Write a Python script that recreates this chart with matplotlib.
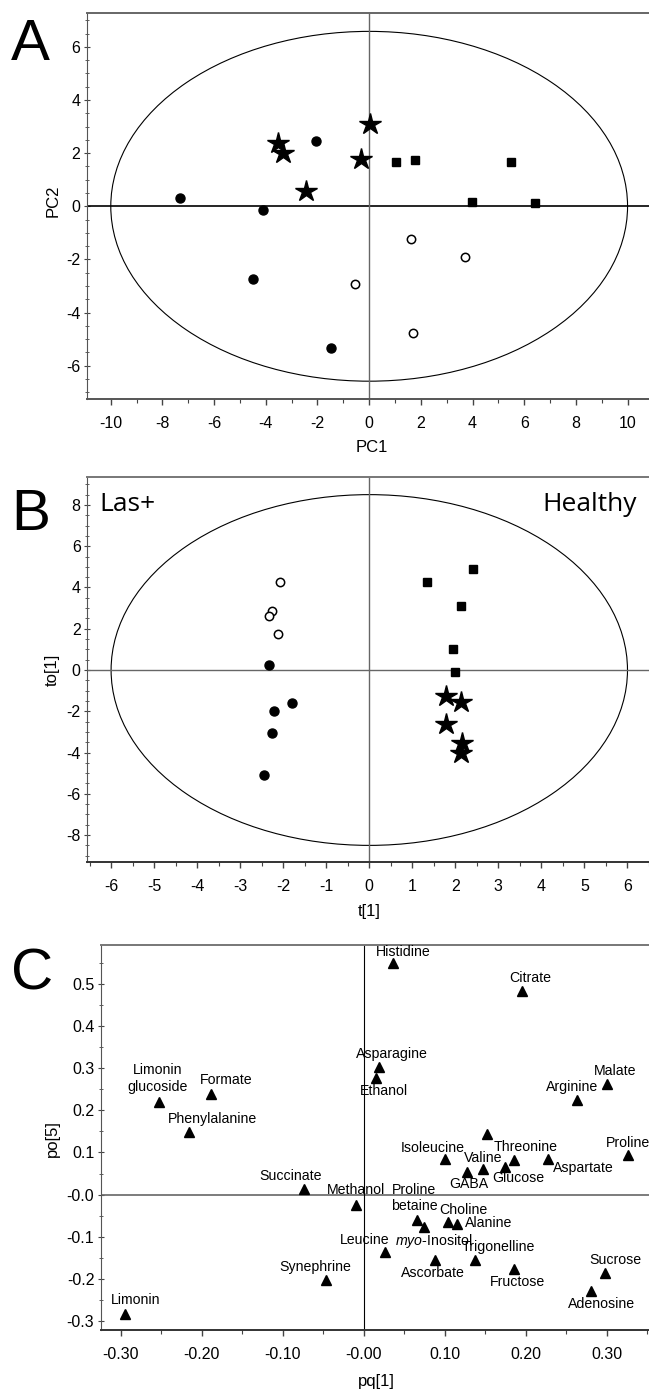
import matplotlib
matplotlib.use("Agg")
import matplotlib.pyplot as plt
from matplotlib.patches import Ellipse
from matplotlib.ticker import MultipleLocator, FixedLocator, FixedFormatter
import numpy as np

plt.rcParams["font.family"] = ["Liberation Sans", "DejaVu Sans"]
plt.rcParams["mathtext.fontset"] = "custom"
plt.rcParams["mathtext.rm"] = "Liberation Sans"
plt.rcParams["mathtext.it"] = "Liberation Sans:italic"
plt.rcParams["axes.unicode_minus"] = False

# ---- Panel A: PCA scores (PC1 vs PC2) ----
A_STAR_X = [-3.53, -3.33, 0.03, -0.32, -2.45]
A_STAR_Y = [2.37, 1.99, 3.08, 1.78, 0.58]
A_DOT_X = [-7.31, -4.09, -2.05, -4.49, -1.46]
A_DOT_Y = [0.32, -0.13, 2.45, -2.74, -5.35]
A_SQ_X = [1.04, 1.76, 5.50, 3.99, 6.41]
A_SQ_Y = [1.68, 1.75, 1.67, 0.16, 0.12]
A_OPEN_X = [1.63, 3.72, -0.53, 1.68]
A_OPEN_Y = [-1.24, -1.90, -2.91, -4.76]
A_ELLIPSE = (10.0, 6.58)   # semi-axes (PC1, PC2)

# ---- Panel B: OPLS-DA scores (t[1] vs to[1]) ----
B_OPEN_X = [-2.07, -2.27, -2.33, -2.13]
B_OPEN_Y = [4.25, 2.88, 2.63, 1.73]
B_DOT_X = [-2.32, -1.80, -2.21, -2.27, -2.45]
B_DOT_Y = [0.24, -1.62, -1.99, -3.04, -5.09]
B_SQ_X = [1.34, 2.40, 2.14, 1.95, 2.00]
B_SQ_Y = [4.28, 4.89, 3.10, 1.00, -0.11]
B_STAR_X = [1.78, 2.12, 1.78, 2.16, 2.13]
B_STAR_Y = [-1.26, -1.54, -2.64, -3.56, -4.00]
B_ELLIPSE = (6.0, 8.5)

# ---- Panel C: loadings (pq[1] vs po[5]) ----
C_NAMES = ["Histidine", "Citrate", "Asparagine", "Ethanol", "Malate", "Arginine",
           "Limonin\nglucoside", "Formate", "Phenylalanine", "", "Isoleucine",
           "Threonine", "Valine", "GABA", "Glucose", "Aspartate", "Proline",
           "Succinate", "Methanol", "Proline\nbetaine", r"$\it{myo}$-Inositol",
           "Choline", "Alanine", "Leucine", "Ascorbate", "Trigonelline",
           "Fructose", "Sucrose", "Adenosine", "Synephrine", "Limonin"]
C_X = [0.036, 0.196, 0.019, 0.015, 0.300, 0.263,
       -0.252, -0.189, -0.215, 0.152, 0.101,
       0.186, 0.147, 0.128, 0.175, 0.228, 0.326,
       -0.074, -0.010, 0.066, 0.074,
       0.104, 0.115, 0.026, 0.088, 0.137,
       0.185, 0.298, 0.281, -0.047, -0.294]
C_Y = [0.551, 0.484, 0.303, 0.277, 0.263, 0.224,
       0.221, 0.238, 0.149, 0.144, 0.085,
       0.081, 0.060, 0.053, 0.065, 0.085, 0.093,
       0.013, -0.026, -0.061, -0.077,
       -0.066, -0.070, -0.136, -0.156, -0.155,
       -0.178, -0.187, -0.229, -0.203, -0.283]
C_XTICKS = [-0.30, -0.20, -0.10, 0.0, 0.10, 0.20, 0.30]
C_XTICKLABELS = ["-0.30", "-0.20", "-0.10", "-0.00", "0.10", "0.20", "0.30"]
C_YTICKS = [-0.3, -0.2, -0.1, 0.0, 0.1, 0.2, 0.3, 0.4, 0.5]
C_YTICKLABELS = ["-0.3", "-0.2", "-0.1", "-0.0", "0.1", "0.2", "0.3", "0.4", "0.5"]

# label offsets from marker, in pixels (dx, dy)
C_LABEL_OFFSETS = {
    "Histidine": (10, 11), "Citrate": (8, 13), "Asparagine": (13, 13),
    "Ethanol": (8, -13), "Malate": (8, 13), "Arginine": (-5, 13),
    "Limonin\nglucoside": (-2, 23), "Formate": (16, 14), "Phenylalanine": (23, 13),
    "Isoleucine": (-13, 11), "Threonine": (11, 13), "Valine": (0, 11),
    "GABA": (1, -12), "Glucose": (13, -11), "Aspartate": (35, -9),
    "Proline": (0, 12), "Succinate": (-13, 13), "Methanol": (0, 15),
    "Proline\nbetaine": (-3, 22), r"$\it{myo}$-Inositol": (10, -14),
    "Choline": (15, 12), "Alanine": (32, 1), "Leucine": (-20, 12),
    "Ascorbate": (-2, -13), "Trigonelline": (24, 13), "Fructose": (4, -13),
    "Sucrose": (10, 13), "Adenosine": (10, -13), "Synephrine": (-10, 13),
    "Limonin": (10, 14),
}

W, H = 649, 1390
fig = plt.figure(figsize=(W / 100, H / 100), dpi=100)


def px_axes(left, top, bottom):
    return fig.add_axes([left / W, 1 - bottom / H, 1 - left / W, (bottom - top) / H])


def style_axes(ax, top_color="#666", bottom_color="#555"):
    ax.spines["right"].set_visible(False)
    ax.spines["top"].set_color(top_color)
    ax.spines["top"].set_linewidth(1.4)
    ax.spines["bottom"].set_color(bottom_color)
    ax.spines["bottom"].set_linewidth(1.4)
    ax.spines["left"].set_color("#555")
    ax.spines["left"].set_linewidth(0.8)
    ax.tick_params(axis="x", which="both", direction="out", colors="#444",
                   labelcolor="black", labelsize=11.5, pad=8)
    ax.tick_params(axis="x", which="major", length=4, width=1)
    ax.tick_params(axis="x", which="minor", length=3, width=0.8)
    ax.tick_params(axis="y", which="both", direction="inout", colors="#444",
                   labelcolor="black", labelsize=11.5, pad=2)
    ax.tick_params(axis="y", which="major", length=5, width=0.8)
    ax.tick_params(axis="y", which="minor", length=3, width=0.6)


def axis_labels(ax, xl, yl, xc, yc):
    ax.set_xlabel(xl, fontsize=12)
    ax.set_ylabel(yl, fontsize=12)
    ax.xaxis.set_label_coords(*xc)
    ax.yaxis.set_label_coords(*yc)
    ax.xaxis.label.set_va("center")
    ax.yaxis.label.set_va("center")


# ----- A -----
ax = px_axes(86.5, 13.3, 399)
ax.set_xlim(-10.94, 10.83)
ax.set_ylim(-7.25, 7.26)
ax.add_patch(Ellipse((0, 0), 2 * A_ELLIPSE[0], 2 * A_ELLIPSE[1], fill=False,
                     edgecolor="black", linewidth=0.8))
ax.axhline(0, color="black", linewidth=1.2)
ax.axvline(0, color="#666", linewidth=1.0)
ax.plot(A_STAR_X, A_STAR_Y, "*", color="black", ms=16, ls="none")
ax.plot(A_DOT_X, A_DOT_Y, "o", color="black", ms=6.5, ls="none")
ax.plot(A_SQ_X, A_SQ_Y, "s", color="black", ms=6, ls="none")
ax.plot(A_OPEN_X, A_OPEN_Y, "o", mfc="white", mec="black", mew=1.1, ms=6, ls="none")
ax.xaxis.set_major_locator(MultipleLocator(2))
ax.xaxis.set_minor_locator(MultipleLocator(1))
ax.yaxis.set_major_locator(MultipleLocator(2))
ax.yaxis.set_minor_locator(MultipleLocator(0.5))
style_axes(ax)
axis_labels(ax, "PC1", "PC2", (0.508, -0.1245), (-0.060, 0.513))

# ----- B -----
ax = px_axes(87, 477.3, 862.3)
ax.set_xlim(-6.56, 6.50)
ax.set_ylim(-9.32, 9.34)
ax.add_patch(Ellipse((0, 0), 2 * B_ELLIPSE[0], 2 * B_ELLIPSE[1], fill=False,
                     edgecolor="black", linewidth=0.8))
ax.axhline(0, color="#666", linewidth=1.0)
ax.axvline(0, color="#666", linewidth=1.0)
ax.plot(B_OPEN_X, B_OPEN_Y, "o", mfc="white", mec="black", mew=1.1, ms=6, ls="none")
ax.plot(B_DOT_X, B_DOT_Y, "o", color="black", ms=6.5, ls="none")
ax.plot(B_SQ_X, B_SQ_Y, "s", color="black", ms=6, ls="none")
ax.plot(B_STAR_X, B_STAR_Y, "*", color="black", ms=16, ls="none")
ax.xaxis.set_major_locator(MultipleLocator(1))
ax.xaxis.set_minor_locator(MultipleLocator(0.5))
ax.yaxis.set_major_locator(MultipleLocator(2))
ax.yaxis.set_minor_locator(MultipleLocator(0.5))
style_axes(ax, top_color="#777", bottom_color="#333")
axis_labels(ax, "t[1]", "to[1]", (0.503, -0.128), (-0.061, 0.4995))
fig.text(99 / W, 1 - 511 / H, "Las+", family="Open Sans", fontsize=19, va="baseline")
fig.text(637 / W, 1 - 511 / H, "Healthy", family="Open Sans", fontsize=19,
         va="baseline", ha="right")

# ----- C -----
ax = px_axes(100.6, 944.7, 1330)
ax.set_xlim(-0.3247, 0.3522)
ax.set_ylim(-0.322, 0.594)
ax.axhline(0, color="#666", linewidth=1.2)
ax.axvline(0, color="black", linewidth=0.8)
ax.plot(C_X, C_Y, "^", color="black", ms=6.5, ls="none")
for name, x, y in zip(C_NAMES, C_X, C_Y):
    if not name:
        continue
    dx, dy = C_LABEL_OFFSETS[name]
    ax.annotate(name, (x, y), xytext=(dx, dy), textcoords="offset pixels",
                ha="center", va="center", fontsize=10.2, linespacing=1.2,
                annotation_clip=False)
ax.xaxis.set_major_locator(FixedLocator(C_XTICKS))
ax.xaxis.set_major_formatter(FixedFormatter(C_XTICKLABELS))
ax.xaxis.set_minor_locator(MultipleLocator(0.05))
ax.yaxis.set_major_locator(FixedLocator(C_YTICKS))
ax.yaxis.set_major_formatter(FixedFormatter(C_YTICKLABELS))
ax.yaxis.set_minor_locator(MultipleLocator(0.05))
style_axes(ax, top_color="#777", bottom_color="#333")
axis_labels(ax, "pq[1]", "po[5]", (0.503, -0.134), (-0.0875, 0.498))

# panel letters
for letter, x, base in [("A", 11, 60), ("B", 11, 530), ("C", 10.5, 989)]:
    fig.text(x / W, 1 - base / H, letter, fontsize=42, va="baseline", ha="left")

fig.savefig("out.png", dpi=100)
